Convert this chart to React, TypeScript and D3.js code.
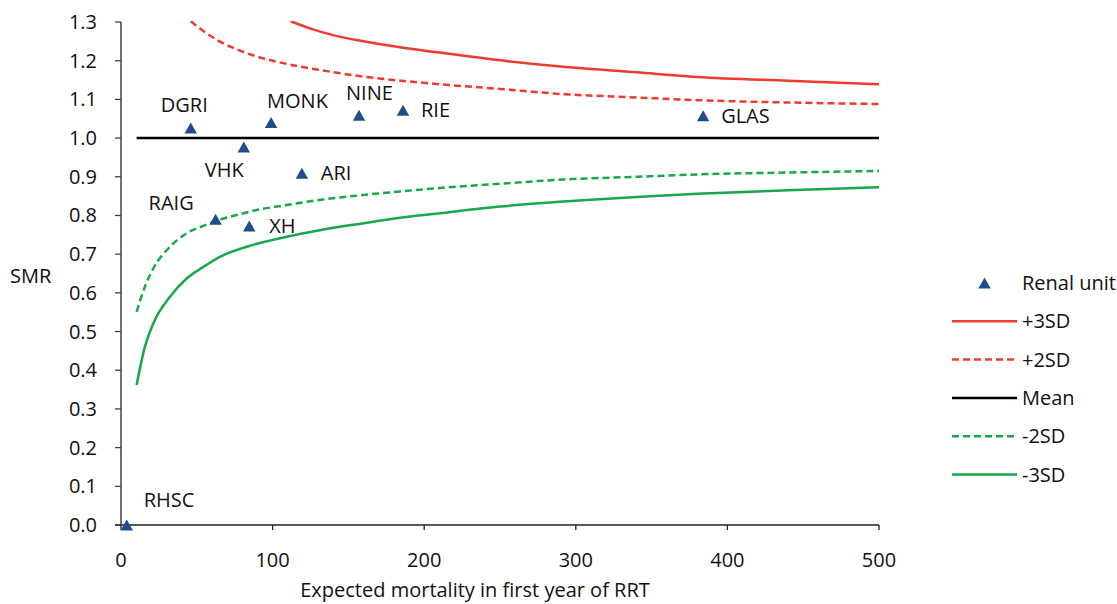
import React from "react";
import * as d3 from "d3";

// Renal units (scatter)
const units = ["RHSC", "DGRI", "VHK", "MONK", "NINE", "RIE", "ARI", "RAIG", "XH", "GLAS"];
const expected = [3.8, 46, 81, 99, 157, 186, 119.3, 62.4, 84.6, 384];
const smr = [0.0, 1.026, 0.977, 1.04, 1.059, 1.072, 0.909, 0.79, 0.773, 1.058];
// label offsets (px) relative to marker
const labelDx = [17, -30, -39, -4, -13, 18, 19, -67, 20, 18];
const labelDy = [-18, -16, 30, -15, -15, 7, 7, -9, 7, 7];

// Control limits
const plus3E = [112, 125, 140, 160, 185, 210, 250, 290, 340, 380, 440, 500];
const plus3 = [1.302, 1.283, 1.266, 1.25, 1.234, 1.221, 1.201, 1.185, 1.17, 1.158, 1.148, 1.139];

const plus2E = [46, 55, 65, 76, 87, 100, 115, 131, 160, 205, 250, 290, 340, 380, 440, 500];
const plus2 = [1.302, 1.275, 1.25, 1.23, 1.214, 1.2, 1.187, 1.176, 1.159, 1.141, 1.127, 1.114, 1.105, 1.098, 1.092, 1.088];

const meanE = [10.3, 500];
const meanV = [1.0, 1.0];

const minus2E = [10.3, 15.8, 21.3, 32.3, 43.3, 54.3, 65, 76.3, 87.2, 109.2, 131, 160, 184, 204, 250, 291.5, 340, 380, 440, 500];
const minus2 = [0.551, 0.616, 0.663, 0.719, 0.754, 0.773, 0.789, 0.801, 0.812, 0.827, 0.84, 0.853, 0.862, 0.869, 0.882, 0.893, 0.9, 0.906, 0.911, 0.915];

const minus3E = [10.3, 15.8, 21.3, 32.3, 43.3, 54.3, 65.3, 87.2, 109.2, 131, 160, 184, 204, 250, 291.5, 340, 380, 440, 500];
const minus3 = [0.362, 0.461, 0.521, 0.59, 0.637, 0.667, 0.693, 0.724, 0.745, 0.762, 0.78, 0.794, 0.803, 0.823, 0.836, 0.848, 0.856, 0.865, 0.873];

const xTicks = [0, 100, 200, 300, 400, 500];
const yTicks = [0, 0.1, 0.2, 0.3, 0.4, 0.5, 0.6, 0.7, 0.8, 0.9, 1.0, 1.1, 1.2, 1.3];

const RED = "#EF3B2F";
const GREEN = "#17A84B";
const BLUE = "#1F4E8A";
const FONT = "'Open Sans', 'Noto Sans', sans-serif";
const FS = 20;

const series = [
  { name: "+3SD", xs: plus3E, ys: plus3, color: RED, dash: "none" },
  { name: "+2SD", xs: plus2E, ys: plus2, color: RED, dash: "7,4" },
  { name: "Mean", xs: meanE, ys: meanV, color: "#000", dash: "none" },
  { name: "-2SD", xs: minus2E, ys: minus2, color: GREEN, dash: "7,4" },
  { name: "-3SD", xs: minus3E, ys: minus3, color: GREEN, dash: "none" },
];

const tri = (cx: number, cy: number, w = 12.5, h = 11) =>
  `M${cx},${cy - h / 2}L${cx + w / 2},${cy + h / 2}L${cx - w / 2},${cy + h / 2}Z`;

export default function App() {
  const x = d3.scaleLinear().domain([0, 500]).range([121, 879]);
  const y = d3.scaleLinear().domain([0, 1.3]).range([525, 22]);
  const line = d3
    .line<[number, number]>()
    .x((d) => x(d[0]))
    .y((d) => y(d[1]))
    .curve(d3.curveMonotoneX);

  const legendX0 = 952;
  const legendX1 = 1017;
  const legendY0 = 283;
  const legendStep = 38.3;

  return (
    <svg
      width={1117}
      height={604}
      style={{ position: "absolute", left: 0, top: 0, background: "#fff" }}
      fontFamily={FONT}
    >
      <defs>
        <clipPath id="plot">
          <rect x={121} y={21} width={760} height={505} />
        </clipPath>
      </defs>

      {/* axes */}
      <line x1={121} x2={121} y1={22} y2={525} stroke="#404040" strokeWidth={1.5} />
      <line x1={115} x2={879} y1={525} y2={525} stroke="#222" strokeWidth={1.3} />
      {yTicks.map((t) => (
        <g key={t}>
          <line x1={115} x2={121} y1={y(t)} y2={y(t)} stroke="#404040" strokeWidth={1.3} />
          <text x={97} y={y(t) + 7} textAnchor="end" fontSize={FS} fill="#111">
            {t.toFixed(1)}
          </text>
        </g>
      ))}
      {xTicks.map((t) => (
        <g key={t}>
          <line x1={x(t)} x2={x(t)} y1={525} y2={530} stroke="#222" strokeWidth={1.3} />
          <text x={x(t)} y={567} textAnchor="middle" fontSize={FS} fill="#111">
            {t}
          </text>
        </g>
      ))}
      <text x={10} y={283} fontSize={FS} fill="#111">SMR</text>
      <text x={475} y={597} textAnchor="middle" fontSize={FS} fill="#111">
        Expected mortality in first year of RRT
      </text>

      {/* limit lines */}
      <g clipPath="url(#plot)">
        {series.map((s) => (
          <path
            key={s.name}
            d={line(s.xs.map((v, i) => [v, s.ys[i]] as [number, number])) || ""}
            fill="none"
            stroke={s.color}
            strokeWidth={2.5}
            strokeDasharray={s.dash}
          />
        ))}
      </g>

      {/* points */}
      {units.map((u, i) => {
        const px = x(expected[i]);
        const py = y(smr[i]);
        return (
          <g key={u}>
            <path d={tri(px, py)} fill={BLUE} />
            <text x={px + labelDx[i]} y={py + labelDy[i]} fontSize={FS} fill="#111">
              {u}
            </text>
          </g>
        );
      })}

      {/* legend */}
      <path d={tri((legendX0 + legendX1) / 2, legendY0)} fill={BLUE} />
      <text x={1022} y={legendY0 + 7} fontSize={FS} fill="#111">Renal unit</text>
      {series.map((s, i) => {
        const ly = legendY0 + legendStep * (i + 1);
        return (
          <g key={s.name}>
            <line
              x1={legendX0}
              x2={legendX1}
              y1={ly}
              y2={ly}
              stroke={s.color}
              strokeWidth={2.5}
              strokeDasharray={s.dash}
            />
            <text x={1022} y={ly + 7} fontSize={FS} fill="#111">
              {s.name}
            </text>
          </g>
        );
      })}
    </svg>
  );
}
